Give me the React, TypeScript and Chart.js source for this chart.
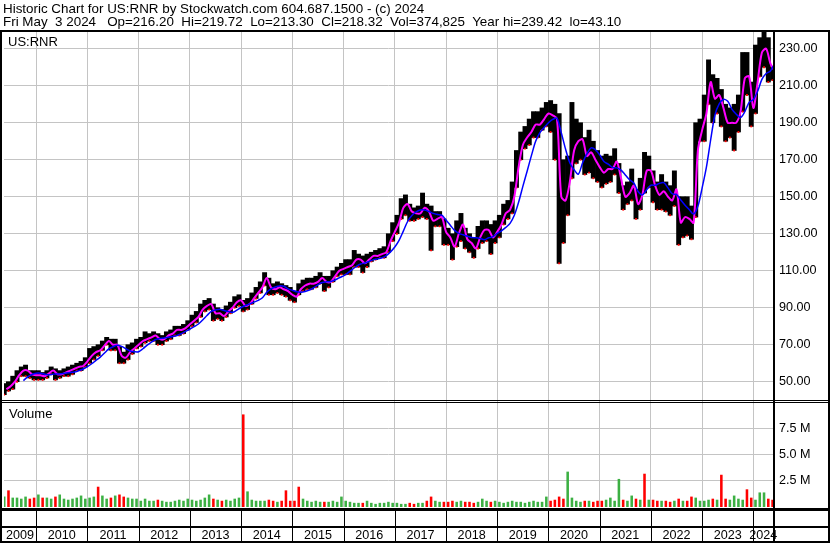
import React, { useEffect, useRef } from 'react';
import { Chart, registerables } from 'chart.js';

Chart.register(...registerables);

// Monthly data, index 0 = May 2009 ... index 180 = May 2024 (partial)
const yearLabels = ['2009','2010','2011','2012','2013','2014','2015','2016','2017','2018','2019','2020','2021','2022','2023','2024'];
const yearStarts = [8,20,32,44,56,68,80,92,104,116,128,140,152,164,176]; // month index of each January
const yearLabelCenters = [4.2,14,26,38,50,62,74,86,98,110,122,134,146,158,170,178.3];

const monthlyLow = [
  43,45,46,50,53,53,52,51,
  51,51,52,54,51,52,53,53,54,56,56,58,
  60,62,64,67,70,67,67,60,60,62,65,68,
  69,71,72,72,70,70,72,73,75,75,76,78,
  80,82,85,88,89,83,84,83,85,87,90,91,
  88,89,92,95,98,102,97,97,98,97,96,94,
  93,97,99,100,100,101,103,99,101,104,107,108,
  108,108,112,112,109,112,115,116,117,117,120,126,
  130,138,140,137,137,138,139,138,121,134,134,124,
  124,116,123,126,122,120,117,122,125,126,119,125,
  128,135,138,141,155,170,176,178,182,182,186,188,
  185,170,114,125,140,160,168,170,162,163,160,158,
  155,157,158,162,152,143,146,148,138,143,152,155,
  147,143,143,142,140,145,124,128,129,127,139,180,
  180,200,190,195,188,180,182,175,185,196,205,188,
  195,215,220,212,213,
];

const monthlyHigh = [
  49,50,53,56,58,59,56,56,
  56,55,56,58,57,56,57,58,59,60,61,63,
  68,69,70,72,74,73,73,69,66,70,71,73,
  74,77,76,77,76,75,77,78,80,80,81,83,
  86,88,92,94,95,92,90,89,91,93,96,97,
  94,95,98,101,104,109,106,103,104,103,102,101,
  99,103,105,106,106,107,109,107,107,110,112,114,
  116,116,121,119,118,119,120,121,122,123,130,136,
  140,149,151,146,144,145,152,146,145,142,142,138,
  133,130,137,141,133,130,128,134,137,137,135,137,
  140,146,148,158,175,185,188,192,196,196,198,201,
  202,200,195,170,172,201,192,190,182,186,180,175,
  172,173,172,176,168,156,158,165,154,160,174,172,
  164,158,162,158,156,164,150,150,150,145,190,192,
  205,224,216,214,208,200,198,200,205,228,228,212,
  232,236,239,236,220,
];

// short moving average (magenta) as read at each month end
const shortAverage = [
  46,47.5,50,53.5,56,56,54,53.5,
  53.5,53,54.5,56,54,54,55,56,57,58,58.5,61,
  64,66,67,69.5,72,70,70,64,63,66,68,70,
  72,73,74,75,73,73,75,76,78,78,79,81,
  83,85,89,91,92,87,87,85.5,88,90,93,94,
  91,92,95,98,101,106,101,100,101,100,99,97,
  96,100,102,103,103,104,106,104,104,107,110,111,
  112,113,116,116,114,116,118,118,119,120,126,131,
  136,144,146,142,141,141,144,142,137,138,139,131,
  128,123,130,135,127,125,122,128,132,132,128,131,
  135,141,143,150,166,178,182,185,189,189,192,195,
  194,192,150,148,158,175,180,181,172,174,170,166,
  163,165,165,169,160,150,152,156,146,151,164,164,
  156,151,153,150,148,154,136,139,138,136,175,186,
  195,212,203,205,198,190,190,190,196,214,215,198,
  212,228,230,222,218,
];

// volume in millions of shares
const monthlyVolume = [
  1.0,1.6,0.9,0.9,0.8,1.0,0.8,0.9,
  1.2,0.9,0.9,0.8,1.0,1.2,0.8,0.7,0.8,0.9,1.1,0.8,
  0.9,1.0,1.95,1.1,0.8,0.9,1.1,1.2,1.0,0.9,0.8,0.8,
  0.6,0.8,0.6,0.6,0.7,0.6,0.5,0.5,0.6,0.7,0.6,0.8,
  0.7,0.6,0.7,0.9,1.2,0.8,0.7,0.6,0.7,0.6,0.8,0.9,
  8.9,1.5,0.7,0.6,0.6,0.6,0.7,0.6,0.5,0.6,1.6,0.6,
  0.6,1.95,0.8,0.6,0.5,0.6,0.5,0.5,0.5,0.6,0.5,1.0,
  0.6,0.5,0.4,0.4,0.4,0.6,0.4,0.3,0.4,0.4,0.5,0.4,
  0.4,0.3,0.3,0.4,0.3,0.4,0.4,0.6,1.0,0.6,0.5,0.5,
  0.5,0.6,0.5,0.6,0.5,0.5,0.4,0.5,0.8,0.6,0.5,0.6,
  0.5,0.4,0.5,0.6,0.5,0.5,0.4,0.5,0.6,0.5,0.5,1.0,
  0.6,0.7,1.0,0.8,3.4,0.9,0.6,0.5,0.6,0.6,0.5,0.6,
  0.6,0.7,0.9,0.6,2.7,0.7,0.6,1.1,0.8,0.7,3.2,0.7,
  0.7,0.6,0.6,0.6,0.5,0.6,0.8,0.6,0.6,1.0,0.9,0.6,
  0.6,0.7,0.8,0.7,3.1,0.8,0.7,1.1,0.8,0.7,1.7,0.9,
  0.7,1.4,1.4,0.8,0.7,
];

// observed colour of the tall volume spikes (1 = up/green, -1 = down/red)
const spikeDirection: Record<number, number> = {
  1: -1, 22: -1, 56: -1, 66: -1, 69: -1, 132: 1, 144: 1, 150: -1, 168: -1, 174: -1, 177: 1, 178: 1,
};

const priceTicks = [50,60,70,80,90,100,110,120,130,140,150,160,170,180,190,200,210,220,230];
const volumeTicks = [2.5, 5, 7.5];

const GRID = '#c4c4c4';
const FONT = '"Liberation Sans", Arial, sans-serif';

export default function App() {
  const ref = useRef<HTMLCanvasElement>(null);

  useEffect(() => {
    document.body.style.margin = '0';
    const canvas = ref.current;
    if (!canvas) return;

    const rangeData = monthlyLow.map((l, k) => ({ x: k + 0.5, y: [l, monthlyHigh[k]] }));
    const lowMarks = monthlyLow.map((l, k) => ({ x: k + 0.5, y: l }));
    const shortLine = shortAverage.map((v, k) => ({ x: k + 1, y: v }));
    const longLine: { x: number; y: number }[] = [];
    for (let k = 4; k < shortAverage.length; k++) {
      let s = 0;
      for (let j = k - 4; j <= k; j++) s += shortAverage[j];
      longLine.push({ x: k + 1, y: s / 5 });
    }
    const volData = monthlyVolume.map((v, k) => ({ x: k + 0.5, y: v }));
    const volColors = monthlyVolume.map((_, k) => {
      let dir = spikeDirection[k];
      if (dir === undefined) dir = k === 0 || shortAverage[k] >= shortAverage[k - 1] ? 1 : -1;
      return dir > 0 ? '#3cb043' : '#ff0000';
    });

    const framePlugin = {
      id: 'frame',
      afterDraw(c: any) {
        const ctx = c.ctx;
        const W = c.width;
        const H = c.height;
        const area = c.chartArea;
        const py = c.scales.y;
        const xs = c.scales.x;
        ctx.save();
        ctx.fillStyle = '#000';
        ctx.fillRect(0, 30, W, 2);
        ctx.fillRect(0, 30, 2, H - 30);
        ctx.fillRect(W - 2, 30, 2, H - 30);
        ctx.fillRect(area.right, 30, 2, H - 30);
        ctx.fillRect(0, py.bottom - 1, W, 1);
        ctx.fillRect(0, py.bottom + 1, W, 1);
        const b = area.bottom;
        ctx.fillRect(0, b + 1, W, 3);
        ctx.fillRect(0, b + 19, W, 2);
        ctx.fillRect(0, H - 2, W, 2);
        for (const ys of yearStarts) {
          const px = Math.round(xs.getPixelForValue(ys));
          ctx.fillRect(px, b + 4, 1, H - b - 6);
        }
        ctx.restore();
      },
    };

    const zeroPad = (s: any) => {
      s.paddingLeft = 0;
      s.paddingRight = 0;
      s.paddingTop = 0;
      s.paddingBottom = 0;
    };

    const chart = new Chart(canvas, {
      data: {
        datasets: [
          {
            type: 'line',
            label: 'Long average',
            data: longLine,
            borderColor: '#0000ff',
            borderWidth: 1.5,
            pointRadius: 0,
            tension: 0.3,
            yAxisID: 'y',
            xAxisID: 'x',
            order: 1,
          },
          {
            type: 'line',
            label: 'Short average',
            data: shortLine,
            borderColor: '#ff00ff',
            borderWidth: 2,
            pointRadius: 0,
            tension: 0.3,
            yAxisID: 'y',
            xAxisID: 'x',
            order: 2,
          },
          {
            type: 'scatter',
            label: 'Lows',
            data: lowMarks,
            backgroundColor: '#ff0000',
            borderWidth: 0,
            pointStyle: 'rect',
            pointRadius: 1.3,
            yAxisID: 'y',
            xAxisID: 'x',
            order: 3,
          },
          {
            type: 'bar',
            label: 'Range',
            data: rangeData as any,
            backgroundColor: '#000',
            barPercentage: 1,
            categoryPercentage: 1,
            grouped: false,
            yAxisID: 'y',
            xAxisID: 'x',
            order: 4,
          },
          {
            type: 'bar',
            label: 'Volume',
            data: volData,
            backgroundColor: volColors,
            barPercentage: 0.6,
            categoryPercentage: 1,
            grouped: false,
            yAxisID: 'yv',
            xAxisID: 'x',
            order: 5,
          },
        ],
      } as any,
      options: {
        responsive: false,
        devicePixelRatio: 1,
        animation: false,
        events: [],
        layout: { padding: { top: 32, left: 2, right: 0, bottom: 0 } },
        plugins: { legend: { display: false }, tooltip: { enabled: false } },
        scales: {
          x: {
            type: 'linear',
            position: 'bottom',
            offset: false,
            min: 0.45,
            max: 180.6,
            grid: { color: GRID, lineWidth: 1, drawTicks: false, offset: false },
            border: { display: false },
            ticks: { display: false },
            afterBuildTicks: (s: any) => { s.ticks = yearStarts.map((v) => ({ value: v })); },
            afterFit: (s: any) => { s.height = 0; zeroPad(s); },
          },
          xl: {
            type: 'linear',
            position: 'bottom',
            offset: false,
            min: 0.45,
            max: 180.6,
            grid: { display: false, drawTicks: false, offset: false },
            border: { display: false },
            ticks: {
              autoSkip: false,
              maxRotation: 0,
              minRotation: 0,
              padding: 21,
              color: '#000',
              font: { family: FONT, size: 12.6 },
              callback: (_v: any, i: number) => yearLabels[i],
            },
            afterBuildTicks: (s: any) => { s.ticks = yearLabelCenters.map((v) => ({ value: v })); },
            afterFit: (s: any) => { s.height = 36; zeroPad(s); },
          },
          y: {
            type: 'linear',
            position: 'right',
            stack: 'panels',
            stackWeight: 369,
            min: 39.57,
            max: 239.05,
            grid: { color: GRID, lineWidth: 1, drawTicks: false },
            border: { display: false },
            ticks: {
              padding: 6,
              color: '#000',
              font: { family: FONT, size: 12.6 },
              callback: (v: any) => Number(v).toFixed(2),
            },
            afterBuildTicks: (s: any) => { s.ticks = priceTicks.map((v) => ({ value: v })); },
            afterFit: (s: any) => { s.width = 57; zeroPad(s); },
          },
          yv: {
            type: 'linear',
            position: 'right',
            stack: 'panels',
            stackWeight: 106,
            min: 0,
            max: 10.19,
            grid: { color: GRID, lineWidth: 1, drawTicks: false },
            border: { display: false },
            ticks: {
              padding: 6,
              color: '#000',
              font: { family: FONT, size: 12.6 },
              callback: (v: any) => Number(v).toFixed(1) + ' M',
            },
            afterBuildTicks: (s: any) => { s.ticks = volumeTicks.map((v) => ({ value: v })); },
            afterFit: (s: any) => { s.width = 57; zeroPad(s); },
          },
        },
      } as any,
      plugins: [framePlugin],
    });

    return () => chart.destroy();
  }, []);

  const textBase: React.CSSProperties = {
    position: 'absolute',
    fontFamily: FONT,
    color: '#000',
    whiteSpace: 'pre',
    margin: 0,
  };

  return (
    <div style={{ position: 'fixed', left: 0, top: 0, width: 830, height: 543, background: '#fff', overflow: 'hidden' }}>
      <canvas ref={ref} width={830} height={543} style={{ position: 'absolute', left: 0, top: 0, width: 830, height: 543 }} />
      <div style={{ ...textBase, left: 3, top: 2, fontSize: 13.4, lineHeight: '13.4px' }}>
        Historic Chart for US:RNR by Stockwatch.com 604.687.1500 - (c) 2024
      </div>
      <div style={{ ...textBase, left: 3, top: 15.4, fontSize: 13.4, lineHeight: '13.4px' }}>
        {'Fri May  3 2024   Op=216.20  Hi=219.72  Lo=213.30  Cl=218.32  Vol=374,825  Year hi=239.42  lo=43.10'}
      </div>
      <div style={{ ...textBase, left: 8, top: 35, fontSize: 13, lineHeight: '13px' }}>US:RNR</div>
      <div style={{ ...textBase, left: 9, top: 407, fontSize: 13, lineHeight: '13px' }}>Volume</div>
    </div>
  );
}
